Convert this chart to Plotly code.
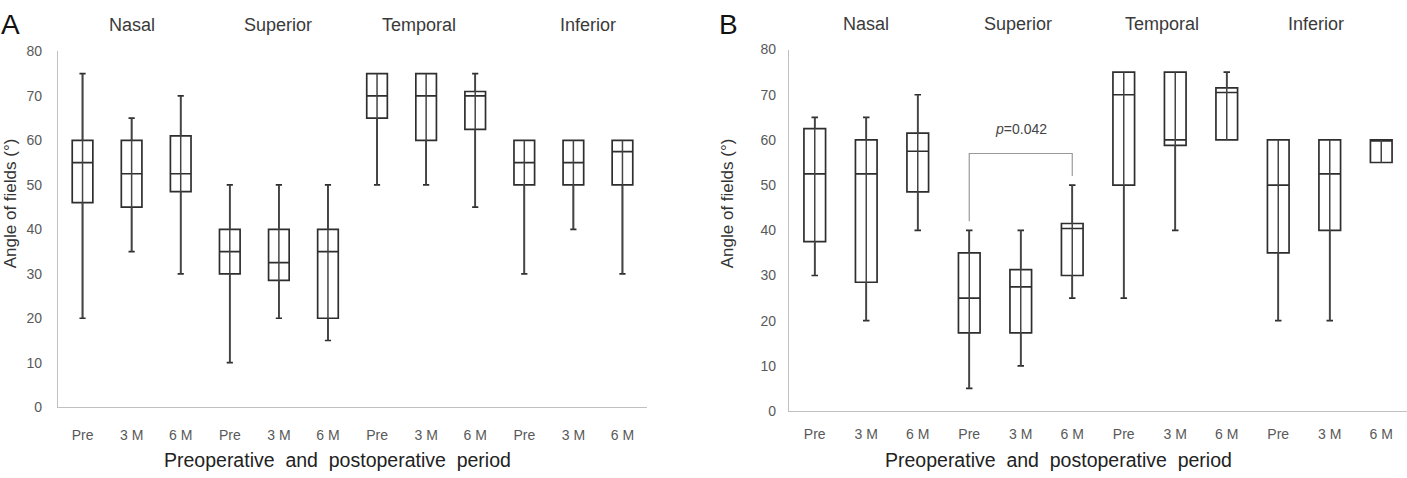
import plotly.graph_objects as go

W, H = 1407, 478

# ---------------- data ----------------
categories = ["Pre", "3 M", "6 M"] * 4
groups = ["Nasal", "Superior", "Temporal", "Inferior"]
y_ticks = [0, 10, 20, 30, 40, 50, 60, 70, 80]

# Panel A
a_low = [20, 35, 30, 10, 20, 15, 50, 50, 45, 30, 40, 30]
a_q1 = [46, 45, 48.5, 30, 28.5, 20, 65, 60, 62.5, 50, 50, 50]
a_median = [55, 52.5, 52.5, 35, 32.5, 35, 70, 70, 70, 55, 55, 57.5]
a_q3 = [60, 60, 61, 40, 40, 40, 75, 75, 71, 60, 60, 60]
a_high = [75, 65, 70, 50, 50, 50, 75, 75, 75, 60, 60, 60]

# Panel B
b_low = [30, 20, 40, 5, 10, 25, 25, 40, 60, 20, 20, 55]
b_q1 = [37.5, 28.5, 48.5, 17.3, 17.3, 30, 50, 58.8, 60, 35, 40, 55]
b_median = [52.5, 52.5, 57.5, 25, 27.5, 40.4, 70, 60, 70.5, 50, 52.5, 60]
b_q3 = [62.5, 60, 61.5, 35, 31.3, 41.5, 75, 75, 71.5, 60, 60, 60]
b_high = [65, 65, 70, 40, 40, 50, 75, 75, 75, 60, 60, 60]

p_text = "<i>p</i>=0.042"
p_pair = (3, 5)  # Superior Pre vs Superior 6M in panel B

positions = list(range(len(categories)))

# ---------------- styling / layout ----------------
FONT = "Liberation Sans, Arial, sans-serif"
BOX_COLOR = "#2e2e2e"
AXIS_COLOR = "#c0c0c0"
TICK_COLOR = "#595959"


def px_x(x):
    return x / W


def px_y(y):
    return 1 - y / H


fig = go.Figure()

panels = [
    dict(xa="x", ya="y", low=a_low, q1=a_q1, med=a_median, q3=a_q3, high=a_high),
    dict(xa="x2", ya="y2", low=b_low, q1=b_q1, med=b_median, q3=b_q3, high=b_high),
]

for p in panels:
    fig.add_trace(go.Box(
        x=positions, q1=p["q1"], median=p["med"], q3=p["q3"],
        lowerfence=p["low"], upperfence=p["high"],
        xaxis=p["xa"], yaxis=p["ya"],
        width=0.42, whiskerwidth=0.3,
        fillcolor="white", line=dict(color=BOX_COLOR, width=1.7),
        boxpoints=False, showlegend=False, hoverinfo="skip",
    ))
    xs, ys = [], []
    for i, lo, hi in zip(positions, p["low"], p["high"]):
        xs += [i, i, None]
        ys += [lo, hi, None]
    fig.add_trace(go.Scatter(
        x=xs, y=ys, mode="lines", xaxis=p["xa"], yaxis=p["ya"],
        line=dict(color="#444444", width=1.5),
        showlegend=False, hoverinfo="skip",
    ))

# bracket for p value (panel B), derived from whisker tops
i0, i1 = p_pair
left_end = b_high[i0] + 2
right_end = b_high[i1] + 2
top = max(b_high[i0:i1 + 1]) + 7
fig.add_trace(go.Scatter(
    x=[i0, i0, i1, i1], y=[left_end, top, top, right_end],
    xaxis="x2", yaxis="y2", mode="lines",
    line=dict(color="#9a9a9a", width=1.2),
    showlegend=False, hoverinfo="skip",
))

axis_common = dict(
    showline=True, linecolor=AXIS_COLOR, linewidth=1.2,
    showgrid=False, zeroline=False, ticks="",
    tickfont=dict(family=FONT, size=14, color=TICK_COLOR),
)

fig.update_layout(
    width=W, height=H,
    margin=dict(l=0, r=0, t=0, b=0),
    paper_bgcolor="white", plot_bgcolor="white",
    showlegend=False,
    xaxis=dict(domain=[px_x(58), px_x(647)], range=[-0.5, 11.5],
               tickvals=positions, ticktext=categories,
               ticklabelstandoff=15, anchor="y", **axis_common),
    yaxis=dict(domain=[px_y(413), px_y(45)], range=[0, 80],
               tickvals=y_ticks, ticklabelstandoff=12, anchor="x", **axis_common),
    xaxis2=dict(domain=[px_x(789), 1.0], range=[-0.5, 11.5],
                tickvals=positions, ticktext=categories,
                ticklabelstandoff=10, anchor="y2", **axis_common),
    yaxis2=dict(domain=[px_y(417), px_y(43)], range=[0, 80],
                tickvals=y_ticks, ticklabelstandoff=9, anchor="x2", **axis_common),
)

annotations = []
# group titles
title_pos_a = [1.0, 3.98, 6.86, 10.29]
title_pos_b = [0.99, 3.94, 6.74, 9.73]
for g, xa, xb in zip(groups, title_pos_a, title_pos_b):
    annotations.append(dict(text=g, x=xa, xref="x", y=px_y(18), yref="paper",
                            showarrow=False, xanchor="center", yanchor="middle",
                            font=dict(family=FONT, size=18, color="#3a3a3a")))
    annotations.append(dict(text=g, x=xb, xref="x2", y=px_y(17), yref="paper",
                            showarrow=False, xanchor="center", yanchor="middle",
                            font=dict(family=FONT, size=18, color="#3a3a3a")))

xtitle = "Preoperative\u00a0 and\u00a0 postoperative\u00a0 period"
for cx in (337, 1058):
    annotations.append(dict(text=xtitle, x=px_x(cx), y=px_y(468), xref="paper", yref="paper",
                            showarrow=False, xanchor="center", yanchor="middle",
                            font=dict(family=FONT, size=19.5, color="#222222")))

ytitle = "Angle of fields (°)"
for cx in (10, 727):
    annotations.append(dict(text=ytitle, x=px_x(cx), y=px_y(202), xref="paper", yref="paper",
                            showarrow=False, xanchor="center", yanchor="middle", textangle=-90,
                            font=dict(family=FONT, size=17, color="#333333")))

# panel letters
for letter, cx in (("A", 10), ("B", 728)):
    annotations.append(dict(text=letter, x=px_x(cx), y=px_y(17), xref="paper", yref="paper",
                            showarrow=False, xanchor="center", yanchor="middle",
                            font=dict(family=FONT, size=28, color="#111111")))

# p value text
annotations.append(dict(text=p_text, x=(i0 + i1) / 2, xref="x2", y=top + 5.5, yref="y2",
                        showarrow=False, xanchor="center", yanchor="middle",
                        font=dict(family=FONT, size=14, color="#444444")))

fig.update_layout(annotations=annotations)

fig.write_html("out.html")
